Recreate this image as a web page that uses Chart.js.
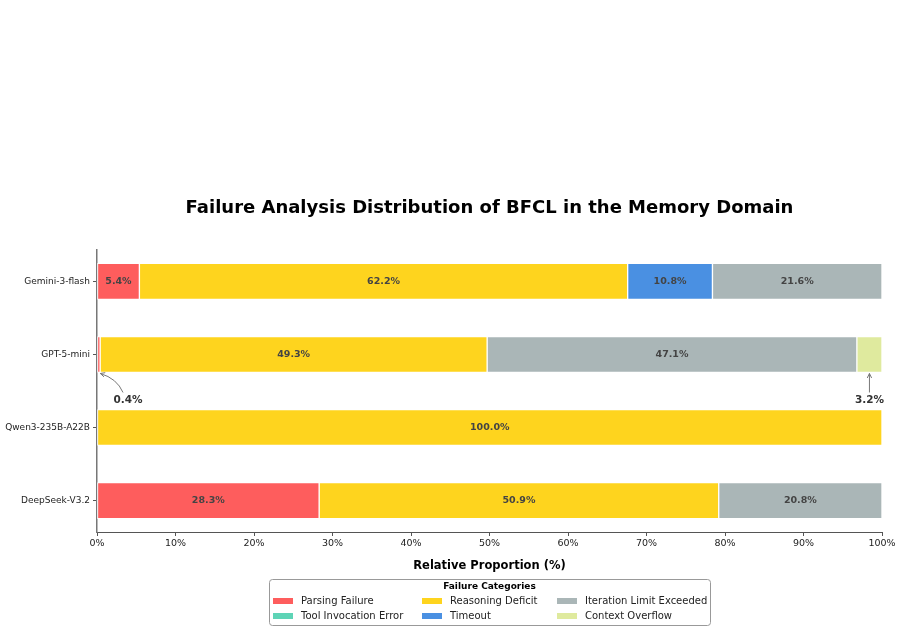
<!DOCTYPE html>
<html>
<head>
<meta charset="utf-8">
<script src="https://cdn.jsdelivr.net/npm/chart.js@4.4.1/dist/chart.umd.min.js"></script>
<style>
  html, body { margin: 0; padding: 0; background: #fff; }
  #myChart { display: block; width: 901px; height: 632px; }
</style>
</head>
<body>
<canvas id="myChart" width="901" height="632"></canvas>
<script>
// modelli (asse y)
const models = ['Gemini-3-flash', 'GPT-5-mini', 'Qwen3-235B-A22B', 'DeepSeek-V3.2'];
// categorie di fallimento
const categories = ['Parsing Failure', 'Tool Invocation Error', 'Reasoning Deficit', 'Timeout', 'Iteration Limit Exceeded', 'Context Overflow'];
// valori in percentuale per ogni categoria
const parsingFailure      = [5.4, 0.4, 0, 28.3];
const toolInvocationError = [0, 0, 0, 0];
const reasoningDeficit    = [62.2, 49.3, 100.0, 50.9];
const timeoutErr          = [10.8, 0, 0, 0];
const iterationLimit      = [21.6, 47.1, 0, 20.8];
const contextOverflow     = [0, 3.2, 0, 0];
const xTicks = [0, 10, 20, 30, 40, 50, 60, 70, 80, 90, 100];

const series = [parsingFailure, toolInvocationError, reasoningDeficit, timeoutErr, iterationLimit, contextOverflow];
const colors = ['#fe5d5d', '#5ed4b6', '#fed41e', '#4a90e2', '#aab6b7', '#dfea9e'];
const FONT = "'DejaVu Sans', sans-serif";

// disegna etichette, titolo, legenda
const extras = {
  id: 'extras',
  afterDatasetsDraw(chart) {
    const ctx = chart.ctx;
    const area = chart.chartArea;
    ctx.save();
    chart.data.datasets.forEach((ds, di) => {
      const meta = chart.getDatasetMeta(di);
      meta.data.forEach((el, i) => {
        const v = series[di][i];
        if (!v) return;
        const p = el.getProps(['x', 'y', 'base', 'height'], true);
        const cx = (p.x + p.base) / 2;
        if (v >= 5) {
          ctx.fillStyle = '#444';
          ctx.font = 'bold 9.5px ' + FONT;
          ctx.textAlign = 'center';
          ctx.textBaseline = 'middle';
          ctx.fillText(v.toFixed(1) + '%', cx, p.y);
        } else {
          // annotazione sotto la barra
          const tipY = p.y + p.height / 2 + 1;
          const tx = Math.max(cx, area.left + 31);
          const ty = tipY + 27;
          ctx.fillStyle = '#333';
          ctx.font = 'bold 10.5px ' + FONT;
          ctx.textAlign = 'center';
          ctx.textBaseline = 'middle';
          ctx.fillText(v.toFixed(1) + '%', tx, ty);
          ctx.strokeStyle = '#777';
          ctx.lineWidth = 1;
          const curved = tx - cx > 5;
          const sx = tx - (curved ? 5 : 0), sy = ty - 8;
          const ex = cx + (curved ? 1.5 : 0), ey = tipY;
          ctx.beginPath();
          ctx.moveTo(sx, sy);
          let ang;
          if (curved) {
            const qx = sx - 6, qy = ey + 5;
            ctx.quadraticCurveTo(qx, qy, ex, ey);
            ang = Math.atan2(ey - qy, ex - qx);
          } else {
            ctx.lineTo(ex, ey);
            ang = Math.atan2(ey - sy, ex - sx);
          }
          ctx.stroke();
          ctx.beginPath();
          ctx.moveTo(ex - 5 * Math.cos(ang - 0.45), ey - 5 * Math.sin(ang - 0.45));
          ctx.lineTo(ex, ey);
          ctx.lineTo(ex - 5 * Math.cos(ang + 0.45), ey - 5 * Math.sin(ang + 0.45));
          ctx.stroke();
        }
      });
    });

    // titolo
    const mid = (area.left + area.right) / 2;
    ctx.fillStyle = '#000';
    ctx.textAlign = 'center';
    ctx.textBaseline = 'middle';
    ctx.font = 'bold 18px ' + FONT;
    ctx.fillText('Failure Analysis Distribution of BFCL in the Memory Domain', mid, 208);
    // titolo asse x
    ctx.font = 'bold 11.5px ' + FONT;
    ctx.fillText('Relative Proportion (%)', mid, 566);

    // legenda
    const bx = 269, by = 579, bw = 441, bh = 46;
    ctx.strokeStyle = '#999';
    ctx.lineWidth = 1;
    ctx.beginPath();
    ctx.roundRect(bx + 0.5, by + 0.5, bw, bh, 3);
    ctx.fillStyle = 'rgba(255,255,255,0.8)';
    ctx.fill();
    ctx.stroke();
    ctx.fillStyle = '#000';
    ctx.font = 'bold 9px ' + FONT;
    ctx.fillText('Failure Categories', mid, 587);
    const colX = [273, 422, 557];
    const rowY = [601, 616];
    ctx.font = '10px ' + FONT;
    ctx.textAlign = 'left';
    chart.data.datasets.forEach((ds, di) => {
      const c = Math.floor(di / 2), r = di % 2;
      ctx.fillStyle = ds.backgroundColor;
      ctx.fillRect(colX[c], rowY[r] - 3, 20, 6);
      ctx.fillStyle = '#222';
      ctx.fillText(ds.label, colX[c] + 28, rowY[r]);
    });
    ctx.restore();
  }
};

new Chart(document.getElementById('myChart'), {
  type: 'bar',
  data: {
    datasets: categories.map((name, k) => ({
      label: name,
      data: series[k].map((v, i) => ({ x: v === 0 ? null : v, y: i })),
      backgroundColor: colors[k],
      borderColor: '#ffffff',
      borderWidth: 1,
      borderSkipped: false,
      barThickness: 36
    }))
  },
  options: {
    indexAxis: 'y',
    responsive: false,
    animation: false,
    layout: { padding: { left: 0, right: 19, top: 250, bottom: 0 } },
    plugins: { legend: { display: false }, tooltip: { enabled: false }, title: { display: false } },
    scales: {
      x: {
        type: 'linear',
        stacked: true,
        min: 0,
        max: 100,
        afterBuildTicks: s => { s.ticks = xTicks.map(v => ({ value: v })); },
        afterFit: s => { s.height = 100; },
        ticks: { callback: v => v + '%', color: '#222', font: { family: FONT, size: 9.5 }, padding: 2, maxRotation: 0 },
        grid: { display: true, drawOnChartArea: false, tickLength: 4, color: '#555' },
        border: { display: true, color: '#555', width: 1 }
      },
      y: {
        type: 'linear',
        stacked: true,
        reverse: true,
        offset: false,
        min: -0.43,
        max: 3.43,
        afterBuildTicks: s => { s.ticks = models.map((m, i) => ({ value: i })); },
        afterFit: s => { s.width = 97; },
        ticks: { callback: v => models[v], color: '#222', font: { family: FONT, size: 9 }, padding: 3 },
        grid: { display: true, drawOnChartArea: false, tickLength: 4, color: '#555', offset: false },
        border: { display: true, color: '#777', width: 1.5 }
      }
    }
  },
  plugins: [extras]
});
</script>
</body>
</html>
